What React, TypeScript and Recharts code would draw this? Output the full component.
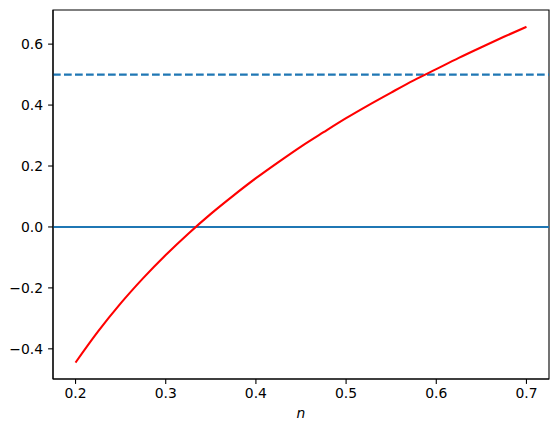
import {
  LineChart,
  Line,
  XAxis,
  YAxis,
  ReferenceLine,
  ReferenceArea,
} from "recharts";

// values
const nValues = [
  0.2, 0.225, 0.25, 0.275, 0.3, 0.325, 0.35, 0.375, 0.4, 0.425, 0.45, 0.475,
  0.5, 0.525, 0.55, 0.575, 0.6, 0.625, 0.65, 0.675, 0.7,
];
const fValues = [
  -0.445, -0.343, -0.251, -0.168, -0.092, -0.022, 0.043, 0.103, 0.16, 0.213,
  0.264, 0.311, 0.357, 0.4, 0.441, 0.481, 0.518, 0.555, 0.59, 0.624, 0.657,
];
const xTicks = [0.2, 0.3, 0.4, 0.5, 0.6, 0.7];
const yTicks = [-0.4, -0.2, 0.0, 0.2, 0.4, 0.6];
const baseLevel = 0;
const targetLevel = 0.5;

const xDomain = [0.175, 0.725];
const yDomain = [-0.499, 0.712];

const data = nValues.map((n, i) => ({ n, f: fValues[i] }));

const font = "DejaVu Sans, sans-serif";
const fmt = (v: number) => v.toFixed(1).replace("-", "\u2212");

export default function App() {
  return (
    <div style={{ position: "absolute", left: 0, top: 0, background: "#fff" }}>
      <LineChart
        width={559}
        height={432}
        data={data}
        margin={{ top: 10, right: 10, left: 0, bottom: 0 }}
        style={{ fontFamily: font }}
      >
        <XAxis
          dataKey="n"
          type="number"
          domain={xDomain}
          ticks={xTicks}
          tickFormatter={fmt}
          height={53}
          tickSize={4.9}
          tickMargin={4}
          axisLine={{ stroke: "#000", strokeWidth: 1.1 }}
          tickLine={{ stroke: "#000", strokeWidth: 1.1 }}
          tick={{ fill: "#000", fontSize: 13.9, fontFamily: font }}
          allowDataOverflow
          label={{
            value: "n",
            position: "insideBottom",
            offset: 14,
            fill: "#000",
            fontSize: 13.9,
            fontStyle: "italic",
            fontFamily: font,
          }}
        />
        <YAxis
          type="number"
          domain={yDomain}
          ticks={yTicks}
          tickFormatter={fmt}
          width={53}
          tickSize={4.9}
          tickMargin={5}
          axisLine={{ stroke: "#000", strokeWidth: 1.1 }}
          tickLine={{ stroke: "#000", strokeWidth: 1.1 }}
          tick={{ fill: "#000", fontSize: 13.9, fontFamily: font }}
          allowDataOverflow
        />
        <ReferenceArea
          x1={xDomain[0]}
          x2={xDomain[1]}
          y1={yDomain[0]}
          y2={yDomain[1]}
          fill="#fff"
          fillOpacity={0}
          stroke="#000"
          strokeWidth={1.1}
        />
        <ReferenceLine y={baseLevel} stroke="#1f77b4" strokeWidth={2.1} />
        <ReferenceLine
          y={targetLevel}
          stroke="#1f77b4"
          strokeWidth={2.1}
          strokeDasharray="7.7 3.3"
        />
        <Line
          dataKey="f"
          type="monotone"
          stroke="#ff0000"
          strokeWidth={2.1}
          dot={false}
          isAnimationActive={false}
        />
      </LineChart>
    </div>
  );
}
